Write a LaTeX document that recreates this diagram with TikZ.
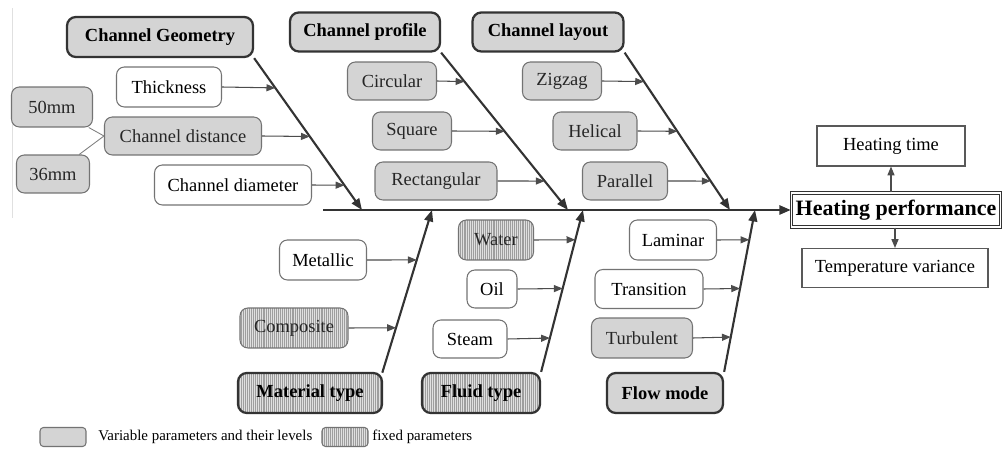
\documentclass[tikz,border=0pt]{standalone}
\usepackage{fontspec}
\setmainfont{Liberation Serif}
\usetikzlibrary{calc,arrows.meta,patterns.meta}

\tikzset{
	box/.style={draw=black!55, line width=0.6pt, rounded corners=4.5pt, inner sep=0pt, font=\fontsize{10.5}{12}\selectfont},
	hatch/.style={preaction={fill=black!12}, pattern={Lines[angle=90,distance=1.1pt,line width=0.35pt]}, pattern color=black!38},
	varbox/.style={box, fill=black!17, text=black!85},
	fixbox/.style={box, hatch, text=black!85},
	openbox/.style={box, fill=white},
	headbox/.style={draw=black!80, line width=1.3pt, rounded corners=5pt, inner sep=0pt, fill=black!17, font=\bfseries\fontsize{10.5}{12}\selectfont},
	resbox/.style={draw=black!65, line width=0.6pt, inner sep=0pt, fill=white, font=\fontsize{10.5}{12}\selectfont},
	branch/.style={draw=black!70, line width=0.6pt, -{Triangle[length=5pt,width=4pt]}},
	spine/.style={draw=black!80, line width=1.2pt, -{Triangle[length=6.5pt,width=5pt]}},
	legtext/.style={anchor=west, inner sep=0pt, font=\fontsize{8.5}{10}\selectfont}
}

\begin{document}
\begin{tikzpicture}[x=0.02cm, y=-0.02cm]
			%%%%% START %%%%%
			\useasboundingbox (0, 0) rectangle (1005, 449);
			\draw[line width=0.3pt, color=black!12] (12, 8) -- (12, 218);
			
			% heads
			\node[headbox, minimum width=3.72cm, minimum height=0.8cm] (geo) at (160, 37) {Channel Geometry};
			\node[headbox, minimum width=3.0cm, minimum height=0.78cm] (prof) at (365, 32) {Channel profile};
			\node[headbox, minimum width=3.02cm, minimum height=0.78cm] (lay) at (548, 32) {Channel layout};
			\node[headbox, hatch, minimum width=2.88cm, minimum height=0.8cm] (mat) at (310, 393) {Material type};
			\node[headbox, hatch, minimum width=2.36cm, minimum height=0.8cm] (fluid) at (481, 393) {Fluid type};
			\node[headbox, minimum width=2.32cm, minimum height=0.8cm] (flow) at (665, 393) {Flow mode};
			
			% result
			\node[resbox, double, double distance=0.8pt, line width=0.7pt, draw=black!80, minimum width=4.18cm, minimum height=0.68cm, font=\bfseries\fontsize{12.5}{14}\selectfont] (perf) at (896, 210) {Heating performance};
			\node[resbox, minimum width=2.96cm, minimum height=0.8cm] (htime) at (891, 146) {Heating time};
			\node[resbox, minimum width=3.72cm, minimum height=0.78cm] (tvar) at (895, 268) {Temperature variance};
			
			% spine ends
			\coordinate (tail) at (323, 210);
			\coordinate (geoE) at (362, 210);
			\coordinate (profE) at (568, 210);
			\coordinate (layE) at (730, 210);
			\coordinate (matE) at (432, 210);
			\coordinate (fluidE) at (583, 210);
			\coordinate (flowE) at (755, 210);
			
			\draw[spine, line width=1.6pt] (tail) -- (perf.west);
			\draw[spine] (geo.south east) -- (geoE);
			\draw[spine] (prof.south east) -- (profE);
			\draw[spine] (lay.south east) -- (layE);
			\draw[spine] (mat.north east) -- (matE);
			\draw[spine] (fluid.north east) -- (fluidE);
			\draw[spine] (flow.north east) -- (flowE);
			
			\draw[branch] (perf.north -| htime.south) -- (htime.south);
			\draw[branch] (perf.south -| tvar.north) -- (tvar.north);
			
			% channel geometry
			\node[openbox, minimum width=2.1cm, minimum height=0.8cm] (thick) at (169, 87) {Thickness};
			\node[varbox, minimum width=3.14cm, minimum height=0.76cm] (dist) at (183, 136) {Channel distance};
			\node[varbox, minimum width=1.62cm, minimum height=0.8cm] (mmA) at (52, 107) {50mm};
			\node[varbox, minimum width=1.46cm, minimum height=0.76cm] (mmB) at (53, 174) {36mm};
			\node[openbox, minimum width=3.14cm, minimum height=0.8cm] (diam) at (233, 185) {Channel diameter};
			\draw[line width=0.5pt, color=black!50] (mmA) -- (dist.west);
			\draw[line width=0.5pt, color=black!50] (mmB) -- (dist.west);
			\draw[branch] (thick.east) -- ($(geo.south east)!0.196!(geoE)$);
			\draw[branch] (dist.east) -- ($(geo.south east)!0.516!(geoE)$);
			\draw[branch] (diam.east) -- ($(geo.south east)!0.837!(geoE)$);
			
			% channel profile
			\node[varbox, minimum width=1.78cm, minimum height=0.76cm] (circ) at (392, 81) {Circular};
			\node[varbox, minimum width=1.58cm, minimum height=0.76cm] (squ) at (412, 131) {Square};
			\node[varbox, minimum width=2.44cm, minimum height=0.76cm] (rect) at (436, 181) {Rectangular};
			\draw[branch] (circ.east) -- ($(prof.south east)!0.184!(profE)$);
			\draw[branch] (squ.east) -- ($(prof.south east)!0.5!(profE)$);
			\draw[branch] (rect.east) -- ($(prof.south east)!0.816!(profE)$);
			
			% channel layout
			\node[varbox, minimum width=1.58cm, minimum height=0.76cm] (zig) at (562, 81) {Zigzag};
			\node[varbox, minimum width=1.68cm, minimum height=0.76cm] (hel) at (595, 131) {Helical};
			\node[varbox, minimum width=1.7cm, minimum height=0.76cm] (par) at (625, 181) {Parallel};
			\draw[branch] (zig.east) -- ($(lay.south east)!0.184!(layE)$);
			\draw[branch] (hel.east) -- ($(lay.south east)!0.5!(layE)$);
			\draw[branch] (par.east) -- ($(lay.south east)!0.816!(layE)$);
			
			% material type
			\node[openbox, minimum width=1.74cm, minimum height=0.8cm] (metal) at (323, 260) {Metallic};
			\node[fixbox, minimum width=2.16cm, minimum height=0.8cm] (comp) at (294, 328) {Composite};
			\draw[branch] (metal.east) -- ($(mat.north east)!0.693!(matE)$);
			\draw[branch] (comp.east) -- ($(mat.north east)!0.276!(matE)$);
			
			% fluid type
			\node[fixbox, minimum width=1.5cm, minimum height=0.8cm] (water) at (496, 240) {Water};
			\node[openbox, minimum width=1.0cm, minimum height=0.76cm] (oil) at (492, 289) {Oil};
			\node[openbox, minimum width=1.48cm, minimum height=0.76cm] (steam) at (470, 339) {Steam};
			\draw[branch] (water.east) -- ($(fluid.north east)!0.816!(fluidE)$);
			\draw[branch] (oil.east) -- ($(fluid.north east)!0.515!(fluidE)$);
			\draw[branch] (steam.east) -- ($(fluid.north east)!0.209!(fluidE)$);
			
			% flow mode
			\node[openbox, minimum width=1.74cm, minimum height=0.8cm] (lam) at (673, 240) {Laminar};
			\node[openbox, minimum width=2.16cm, minimum height=0.78cm] (trans) at (649, 289) {Transition};
			\node[varbox, minimum width=2.02cm, minimum height=0.8cm] (turb) at (642, 338) {Turbulent};
			\draw[branch] (lam.east) -- ($(flow.north east)!0.816!(flowE)$);
			\draw[branch] (trans.east) -- ($(flow.north east)!0.515!(flowE)$);
			\draw[branch] (turb.east) -- ($(flow.north east)!0.215!(flowE)$);
			
			% legend
			\node[varbox, rounded corners=2pt, minimum width=0.92cm, minimum height=0.38cm] (legvar) at (63, 437) {};
			\node[legtext] (legvartext) at (98, 437) {Variable parameters and their levels};
			\node[fixbox, rounded corners=2pt, minimum width=0.92cm, minimum height=0.38cm] (legfix) at (345, 437) {};
			\node[legtext] (legfixtext) at (372, 437) {fixed parameters};
			%%%%% END %%%%%
\end{tikzpicture}
\end{document}
